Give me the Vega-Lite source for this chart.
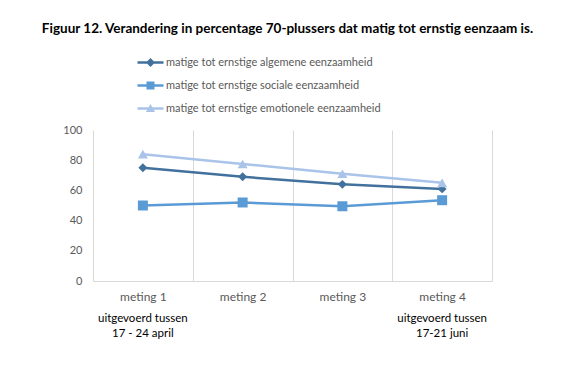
{
  "$schema": "https://vega.github.io/schema/vega-lite/v6.json",
  "width": 399,
  "height": 151,
  "autosize": {"type": "none"},
  "padding": {"left": 93, "top": 130, "right": 83, "bottom": 84},
  "background": "white",
  "title": {
    "text": "Figuur 12. Verandering in percentage 70-plussers dat matig tot ernstig eenzaam is.",
    "font": "Lato",
    "fontSize": 13.5,
    "fontWeight": "bold",
    "color": "#000000",
    "anchor": "middle",
    "offset": 22,
    "dx": -5
  },
  "config": {
    "view": {"stroke": null},
    "font": "Lato"
  },
  "data": {
    "values": [
      {"meting": "meting 1", "reeks": "matige tot ernstige algemene eenzaamheid", "waarde": 75},
      {"meting": "meting 2", "reeks": "matige tot ernstige algemene eenzaamheid", "waarde": 69},
      {"meting": "meting 3", "reeks": "matige tot ernstige algemene eenzaamheid", "waarde": 64},
      {"meting": "meting 4", "reeks": "matige tot ernstige algemene eenzaamheid", "waarde": 61},
      {"meting": "meting 1", "reeks": "matige tot ernstige sociale eenzaamheid", "waarde": 50},
      {"meting": "meting 2", "reeks": "matige tot ernstige sociale eenzaamheid", "waarde": 52},
      {"meting": "meting 3", "reeks": "matige tot ernstige sociale eenzaamheid", "waarde": 49.5},
      {"meting": "meting 4", "reeks": "matige tot ernstige sociale eenzaamheid", "waarde": 53.5},
      {"meting": "meting 1", "reeks": "matige tot ernstige emotionele eenzaamheid", "waarde": 84},
      {"meting": "meting 2", "reeks": "matige tot ernstige emotionele eenzaamheid", "waarde": 77.5},
      {"meting": "meting 3", "reeks": "matige tot ernstige emotionele eenzaamheid", "waarde": 71},
      {"meting": "meting 4", "reeks": "matige tot ernstige emotionele eenzaamheid", "waarde": 65}
    ]
  },
  "resolve": {"axis": {"x": "independent"}},
  "encoding": {
    "y": {
      "field": "waarde",
      "type": "quantitative",
      "scale": {"domain": [0, 100]},
      "axis": {
        "title": null,
        "values": [0, 20, 40, 60, 80, 100],
        "grid": false,
        "domain": false,
        "ticks": false,
        "labelPadding": 11,
        "labelFontSize": 11,
        "labelColor": "#595959",
        "labelFont": "Lato"
      }
    }
  },
  "layer": [
    {
      "mark": {"type": "line", "strokeWidth": 2.5},
      "encoding": {
        "x": {
          "field": "meting",
          "type": "nominal",
          "sort": ["meting 1", "meting 2", "meting 3", "meting 4"],
          "scale": {"paddingInner": 0, "paddingOuter": 0},
          "axis": {
            "title": null,
            "orient": "bottom",
            "tickBand": "extent",
            "grid": true,
            "gridColor": "#d9d9d9",
            "gridWidth": 1,
            "domain": true,
            "domainColor": "#d9d9d9",
            "ticks": false,
            "labelAngle": 0,
            "labelPadding": 10,
            "labelFontSize": 12,
            "labelColor": "#595959",
            "labelFont": "Lato"
          }
        },
        "color": {
          "field": "reeks",
          "type": "nominal",
          "scale": {
            "domain": ["matige tot ernstige algemene eenzaamheid", "matige tot ernstige sociale eenzaamheid", "matige tot ernstige emotionele eenzaamheid"],
            "range": ["#41719C", "#5B9BD5", "#A9C4E8"]
          },
          "legend": {
            "title": null,
            "orient": "none",
            "legendX": 52,
            "legendY": -73,
            "direction": "vertical",
            "symbolSize": 100,
            "symbolOpacity": 1,
            "symbolStrokeWidth": 0,
            "labelOffset": 10,
            "labelFontSize": 11,
            "labelLimit": 0,
            "labelColor": "#595959",
            "labelFont": "Lato",
            "rowPadding": 11
          }
        }
      }
    },
    {
      "transform": [{"filter": "datum.reeks === 'matige tot ernstige algemene eenzaamheid'"}],
      "mark": {"type": "point", "shape": "diamond", "filled": true, "opacity": 1, "size": 80},
      "encoding": {
        "x": {"field": "meting", "type": "nominal", "sort": ["meting 1", "meting 2", "meting 3", "meting 4"], "axis": null},
        "color": {"field": "reeks", "type": "nominal", "legend": null}
      }
    },
    {
      "transform": [{"filter": "datum.reeks === 'matige tot ernstige sociale eenzaamheid'"}],
      "mark": {"type": "point", "shape": "square", "filled": true, "opacity": 1, "size": 100},
      "encoding": {
        "x": {"field": "meting", "type": "nominal", "sort": ["meting 1", "meting 2", "meting 3", "meting 4"], "axis": null},
        "color": {"field": "reeks", "type": "nominal", "legend": null}
      }
    },
    {
      "transform": [{"filter": "datum.reeks === 'matige tot ernstige emotionele eenzaamheid'"}],
      "mark": {"type": "point", "shape": "triangle-up", "filled": true, "opacity": 1, "size": 100},
      "encoding": {
        "x": {"field": "meting", "type": "nominal", "sort": ["meting 1", "meting 2", "meting 3", "meting 4"], "axis": null},
        "color": {"field": "reeks", "type": "nominal", "legend": null}
      }
    },
    {
      "mark": {"type": "point", "filled": true, "opacity": 0},
      "encoding": {
        "x": {
          "field": "meting",
          "type": "nominal",
          "sort": ["meting 1", "meting 2", "meting 3", "meting 4"],
          "axis": {
            "title": null,
            "orient": "bottom",
            "offset": 31,
            "grid": false,
            "domain": false,
            "ticks": false,
            "labelAngle": 0,
            "labelPadding": 0,
            "labelFontSize": 11.5,
            "labelColor": "#000000",
            "labelFont": "Lato",
            "labelLineHeight": 15,
            "labelExpr": "datum.value === 'meting 1' ? ['uitgevoerd tussen', '17 - 24 april'] : (datum.value === 'meting 4' ? ['uitgevoerd tussen', '17-21 juni'] : '')"
          }
        },
        "color": {"field": "reeks", "type": "nominal"},
        "shape": {
          "field": "reeks",
          "type": "nominal",
          "scale": {
            "domain": ["matige tot ernstige algemene eenzaamheid", "matige tot ernstige sociale eenzaamheid", "matige tot ernstige emotionele eenzaamheid"],
            "range": [
              "M-2.6,-0.25H2.6V0.25H-2.6Z M0,-0.9L0.9,0L0,0.9L-0.9,0Z",
              "M-2.6,-0.25H2.6V0.25H-2.6Z M-0.8,-0.8H0.8V0.8H-0.8Z",
              "M-2.6,-0.25H2.6V0.25H-2.6Z M0,-0.9L0.9,0.7H-0.9Z"
            ]
          },
          "legend": {
            "title": null,
            "orient": "none",
            "legendX": 52,
            "legendY": -73,
            "direction": "vertical",
            "symbolSize": 100,
            "symbolOpacity": 1,
            "symbolStrokeWidth": 0,
            "labelOffset": 10,
            "labelFontSize": 11,
            "labelLimit": 0,
            "labelColor": "#595959",
            "labelFont": "Lato",
            "rowPadding": 11
          }
        }
      }
    }
  ]
}
